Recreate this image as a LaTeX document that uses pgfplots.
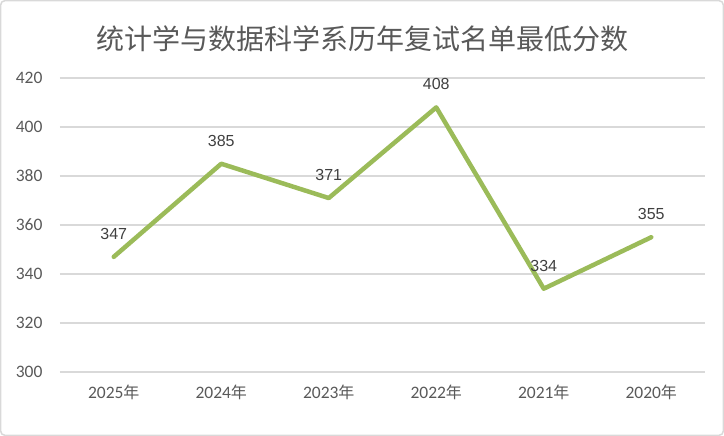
\documentclass[border=0pt]{standalone}
\usepackage{pgfplots}
\pgfplotsset{compat=1.18}
\usepackage{fontspec}
\setmainfont{Carlito}
\newfontfamily\cjk{Noto Sans CJK SC}
\newfontfamily\lab{Liberation Sans}
\definecolor{linegreen}{HTML}{9BBB59}
\definecolor{gridgray}{HTML}{D9D9D9}
\definecolor{txtgray}{HTML}{595959}
\definecolor{labgray}{HTML}{404040}
\begin{document}
\begin{tikzpicture}
\begin{axis}[
  at={(0,0)}, anchor=south west,
  scale only axis,
  width=645bp, height=294bp,
  xmin=-0.5, xmax=5.5,
  ymin=300, ymax=420,
  ytick={300,320,...,420},
  xtick={0,1,2,3,4,5},
  xticklabels={2025{\cjk\fontsize{16bp}{18bp}\selectfont 年},2024{\cjk\fontsize{16bp}{18bp}\selectfont 年},2023{\cjk\fontsize{16bp}{18bp}\selectfont 年},2022{\cjk\fontsize{16bp}{18bp}\selectfont 年},2021{\cjk\fontsize{16bp}{18bp}\selectfont 年},2020{\cjk\fontsize{16bp}{18bp}\selectfont 年}},
  ymajorgrids,
  major grid style={gridgray, line width=1.3bp},
  axis line style={draw=none},
  tick style={draw=none},
  /pgf/number format/assume math mode=true,
  yticklabel style={font=\fontsize{17.5bp}{20bp}\selectfont, text=txtgray, anchor=east, xshift=-14bp},
  xticklabel style={font=\fontsize{17.5bp}{20bp}\selectfont, text=txtgray, anchor=center, yshift=-20bp},
  clip=false,
]
\addplot[linegreen, line width=4.5bp, line join=round, line cap=round,
  nodes near coords,
  nodes near coords style={font=\lab\fontsize{16bp}{18bp}\selectfont, text=labgray, anchor=center, yshift=23bp},
] coordinates {(0,347) (1,385) (2,371) (3,408) (4,334) (5,355)};
\end{axis}
\draw[gridgray, line width=1.5bp, rounded corners=4bp] (-59.25bp,-63.25bp) rectangle (663.25bp,371.25bp);
\node[font=\cjk\fontsize{28bp}{32bp}\selectfont, text=txtgray] at (302bp,333bp) {统计学与数据科学系历年复试名单最低分数};
\end{tikzpicture}
\end{document}
